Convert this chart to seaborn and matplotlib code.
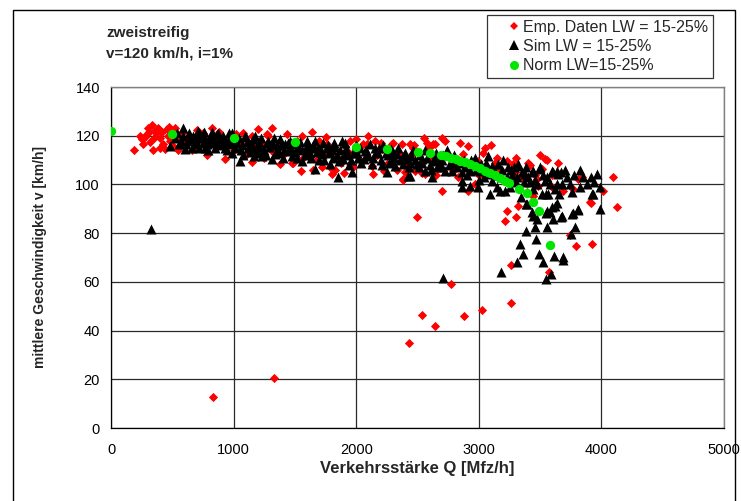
import matplotlib
matplotlib.use("Agg")
import matplotlib.pyplot as plt
from matplotlib.lines import Line2D
from matplotlib.patches import Rectangle
import pandas as pd
import seaborn as sns

# Empirical data (Q in Mfz/h, v in km/h)
emp_q = [185, 237, 250, 262, 291, 332, 340, 359, 386, 400, 400, 427, 440, 454, 467, 508, 522, 536, 544, 604,
         280, 310, 315, 350, 370, 420, 480, 560, 580, 300, 470, 620,
         930, 1148, 1229, 1270, 1311, 1202, 1229, 1283, 1311,
         700, 750, 800, 850, 900, 960, 1000, 1050, 1100, 1150, 1250, 660, 780, 880, 1020, 1180,
         1379, 1433, 1474, 1487, 1569, 1637, 1719, 1760, 1786, 1800, 1854, 1909, 1977, 2058, 2085, 2099,
         2126, 2140, 2208, 2249, 2289, 2303, 2371, 2379, 2385, 2412, 2453, 2466, 2470,
         1350, 1400, 1520, 1550, 1600, 1680, 1700, 1740, 1830, 1880, 1940, 2000, 2030, 2170, 2230, 2330,
         2350, 1650, 1900, 2150,
         2439, 2480, 2520, 2534, 2561, 2575, 2590, 2624, 2643, 2697, 2724, 2792, 2800, 2869, 2874, 2915,
         2915, 2969, 2996, 3037, 3051, 3132, 3146, 3173, 3228, 3282, 3296, 3391, 3404, 3445, 3472, 3485,
         3513, 3540, 3595, 3690, 3771, 3812, 3839, 3907, 4016, 4097, 4125,
         2400, 2600, 2650, 2750, 2830, 2950, 3000, 3100, 3200, 3250, 3350, 3420, 3460, 3600, 3650,
         700, 820, 1080, 1560, 1750, 1950, 2200, 2550, 2700, 2850, 3100, 3300, 3500, 3560,
         2498, 3228, 3304, 3214, 3318, 3744, 3793, 3924, 3913, 3575, 3263, 3263, 3029, 2877, 2771, 2643,
         2540, 2431, 1330, 829]
emp_v = [114.3, 119.9, 118.6, 116.8, 120.9, 124.5, 114.0, 122.0, 123.3, 119.2, 115.0, 116.5, 114.5, 122.7,
         120.0, 115.8, 123.3, 120.6, 114.0, 117.2,
         119.5, 121.5, 117.5, 119.0, 121.0, 121.5, 118.0, 118.0, 121.0, 123.0, 123.5, 119.0,
         110.4, 109.2, 117.2, 120.6, 123.3, 122.7, 113.1, 120.0, 113.8,
         118.0, 121.0, 117.0, 119.5, 116.0, 118.0, 114.0, 117.0, 112.0, 120.0, 111.0, 114.0, 112.0, 121.5,
         120.5, 116.0,
         108.2, 120.6, 109.0, 109.0, 111.0, 121.4, 107.0, 116.5, 107.0, 104.2, 111.0, 115.8, 107.0, 116.5,
         116.5, 120.0, 107.7, 104.2, 114.5, 108.4, 116.5, 117.2, 116.5, 101.8, 102.2, 109.0, 112.4, 115.1,
         116.0,
         115.0, 112.0, 118.0, 105.5, 114.0, 110.0, 118.0, 112.0, 106.0, 109.0, 113.0, 118.5, 110.0, 112.0,
         105.5, 106.0, 113.0, 106.0, 104.5, 118.0,
         116.5, 105.6, 108.4, 104.5, 104.2, 117.2, 115.1, 116.8, 116.5, 97.4, 117.9, 105.6, 107.7, 109.7,
         112.4, 115.8, 97.4, 100.2, 109.7, 113.1, 115.1, 109.0, 111.0, 106.3, 109.7, 108.4, 104.9, 96.9,
         109.0, 95.4, 102.2, 99.5, 106.3, 110.4, 98.8, 97.4, 98.1, 102.2, 102.9, 92.6, 97.4, 102.9, 90.6,
         105.0, 110.0, 104.0, 112.0, 103.0, 108.0, 104.0, 105.0, 102.0, 100.0, 103.0, 108.0, 104.0, 104.0,
         109.0,
         122.5, 123.0, 121.0, 120.0, 119.5, 118.0, 117.0, 119.0, 119.0, 117.0, 116.0, 111.0, 112.0, 110.0,
         86.5, 89.2, 86.8, 85.1, 91.0, 79.3, 74.6, 75.6, 92.2, 64.0, 66.9, 51.4, 48.3, 46.1, 59.2, 41.9,
         46.5, 34.7, 20.5, 12.8]

# Simulation results
sim_q = [481, 555, 585, 610, 631, 671, 685, 726, 767, 794, 821, 862, 916, 930, 984, 1052, 1093, 1148, 1188,
         1202, 1270, 1338, 1379, 1446, 1528, 1556, 1610, 1664, 1719, 1760, 1813, 1854, 1882, 1963, 2017,
         2072, 2153, 2249, 2289, 2371, 2425, 326,
         520, 540, 600, 650, 700, 720, 740, 760, 780, 800, 840, 850, 880, 900, 940, 960, 980, 1000, 1010,
         1030, 1060, 1080, 1110, 1130, 1160, 1170, 1210, 1230, 1250, 1290, 1310, 1350, 1360, 1400, 1420,
         1460, 1480, 1500,
         1540, 1580, 1590, 1630, 1650, 1680, 1700, 1730, 1780, 1790, 1830, 1860, 1900, 1920, 1940, 1980,
         2000,
         2040, 2090, 2110, 2130, 2180, 2200, 2220, 2260, 2300, 2320, 2340, 2380, 2400, 2440, 2460, 2494,
         2534,
         570, 590, 640, 660, 690, 710, 750, 770, 810, 830, 870, 890, 920, 950, 970, 990,
         1040, 1070, 1100, 1120, 1140, 1175, 1195, 1220, 1240, 1265, 1280, 1320, 1330, 1370, 1390, 1410,
         1440, 1470, 1490,
         1510, 1520, 1560, 1600, 1620, 1640, 1660, 1690, 1710, 1740, 1770, 1800, 1820, 1840, 1870, 1890,
         1910, 1930, 1960, 1990,
         2010, 2030, 2060, 2080, 2100, 2140, 2160, 2190, 2210, 2240, 2270, 2280, 2310, 2330, 2360, 2390,
         2410, 2430, 2450, 2480,
         2510, 2540, 2580, 2610, 2640, 2680, 2710, 2760, 2790, 2840, 2860, 2890, 2940, 2980, 3020, 3040,
         3060, 3110, 3140, 3190, 3230, 3260, 3290, 3310, 3350, 3370, 3400, 3430, 3460, 3520, 3560, 3580,
         3700, 3780, 3850, 3880, 3940,
         2439, 2561, 2616, 2629, 2657, 2670, 2697, 2724, 2779, 2779, 2861, 2861, 2928, 2928, 2969, 2996,
         3010, 3078, 3091, 3091, 3105, 3146, 3159, 3173, 3214, 3241, 3254, 3323, 3323, 3346, 3377, 3385,
         3390, 3431, 3445, 3472, 3472, 3499, 3499, 3512, 3540, 3548, 3554, 3567, 3581, 3595, 3603, 3622,
         3622, 3635, 3640, 3649, 3657, 3668, 3676, 3717, 3744, 3758, 3812, 3826, 3826, 3913, 3921, 3929,
         3962, 3989, 3989,
         2520, 2560, 2600, 2650, 2700, 2740, 2800, 2820, 2880, 2900, 2950, 3000, 3050, 3120, 3180, 3200,
         3270, 3300, 3420, 3440,
         3445, 3459, 3385, 3467, 3336, 3358, 3314, 3181, 3494, 3526, 3616, 3690, 3589, 3548, 2706, 3548,
         3608, 3673, 3766, 3812, 3782, 3750, 3595, 3640, 3554, 3676, 3758, 3385, 3690]
sim_v = [115.8, 116.5, 123.3, 116.5, 117.9, 120.0, 116.5, 120.6, 118.6, 114.0, 121.4, 120.6, 120.0, 115.1,
         113.1, 109.7, 120.0, 115.1, 113.1, 115.1, 117.2, 112.4, 118.6, 113.8, 115.1, 109.7, 116.5, 106.3,
         112.4, 115.1, 111.0, 102.9, 117.9, 104.9, 111.0, 113.8, 115.1, 104.9, 109.7, 111.0, 103.6, 81.8,
         119.0, 121.0, 114.5, 118.5, 117.0, 115.0, 119.0, 121.5, 116.5, 119.0, 117.5, 115.0, 118.5, 116.0,
         118.0, 121.0, 116.5, 118.5, 115.0,
         117.0, 114.0, 112.0, 117.5, 113.5, 118.5, 111.5, 117.5, 111.5, 114.0, 115.5, 110.5, 116.0, 114.0,
         111.0, 116.5, 118.0, 111.5, 113.5,
         117.5, 112.0, 114.5, 111.0, 116.0, 113.5, 110.0, 117.0, 113.0, 108.5, 115.5, 109.5, 112.5, 115.0,
         108.0, 113.0, 116.0,
         109.0, 111.5, 116.5, 108.5, 113.0, 110.0, 116.0, 112.0, 113.5, 107.5, 115.0, 108.4, 113.0, 109.0,
         114.0, 108.4, 110.4,
         118.0, 120.0, 121.0, 115.0, 119.0, 122.0, 117.0, 115.0, 117.0, 119.0, 121.0, 117.0, 118.0, 114.0,
         119.0, 121.0,
         119.0, 116.0, 119.5, 115.0, 117.0, 120.0, 116.0, 119.0, 114.0, 112.0, 118.0, 116.5, 119.0, 113.0,
         116.0, 114.0, 117.0, 114.5, 116.5,
         117.0, 111.0, 114.0, 118.0, 113.0, 115.0, 118.0, 115.0, 114.0, 110.0, 116.0, 114.0, 117.0, 112.0,
         114.0, 110.5, 117.0, 112.0, 110.0, 114.5,
         113.0, 115.0, 110.5, 114.0, 112.0, 111.0, 113.5, 115.0, 108.0, 113.0, 109.0, 114.5, 111.0, 112.5,
         110.0, 112.0, 110.5, 107.0, 111.5, 110.0,
         107.0, 109.0, 111.0, 106.0, 110.0, 108.0, 112.0, 108.0, 111.0, 109.0, 105.0, 107.0, 110.0, 106.0,
         108.5, 103.0, 109.0, 107.5, 104.0, 106.0, 103.0, 106.0, 107.0, 103.0, 105.0, 101.0, 103.0, 105.0,
         102.0, 104.0, 103.0, 100.0, 106.0, 104.0, 103.0, 100.0, 101.0,
         103.6, 105.6, 102.9, 109.7, 107.0, 111.0, 107.0, 105.6, 109.0, 105.6, 98.8, 101.5, 99.5, 105.6,
         111.0, 98.8, 105.6, 111.7, 104.2, 96.0, 101.5, 98.8, 108.4, 97.4, 97.4, 107.0, 98.8, 108.4, 107.7,
         94.7, 104.2, 107.2, 92.0, 88.6, 105.6, 100.2, 85.8, 106.3, 107.0, 96.0, 101.5, 96.0, 89.2, 96.0,
         88.6, 105.6, 105.0, 91.3, 98.1, 100.2, 105.6, 104.2, 96.0, 105.3, 100.2, 102.9, 100.2, 96.9, 89.9,
         105.9, 98.8, 102.9, 96.0, 96.0, 104.2, 98.8, 89.9,
         112.0, 114.0, 108.0, 113.0, 110.0, 114.0, 112.0, 107.0, 110.0, 104.0, 108.0, 102.0, 107.0, 106.0,
         103.0, 110.0, 104.0, 101.0, 101.0, 98.0,
         87.2, 82.4, 81.0, 77.6, 75.6, 71.5, 68.0, 64.0, 71.5, 68.0, 70.8, 70.1, 63.3, 61.3, 61.7, 88.1,
         85.8, 86.8, 88.1, 89.5, 82.7, 79.7, 90.6, 92.2, 82.4, 87.2, 87.8, 92.0, 68.8]

# Normative curve
norm_q = [0, 500, 1000, 1500, 2000, 2250, 2500, 2600, 2690, 2730, 2770, 2810, 2850, 2890, 2930, 2970,
          3010, 3050, 3090, 3130, 3170, 3210, 3250, 3330, 3390, 3440, 3490, 3580]
norm_v = [122.0, 120.5, 119.0, 117.5, 115.5, 114.6, 113.4, 113.0, 112.2, 111.6, 111.0, 110.4, 109.8,
          109.1, 108.3, 107.5, 106.6, 105.7, 104.8, 103.8, 102.8, 101.6, 100.4, 98.3, 96.5, 92.9, 89.2,
          75.3]

x_ticks = [0, 1000, 2000, 3000, 4000, 5000]
y_ticks = [0, 20, 40, 60, 80, 100, 120, 140]

labels = ["Emp. Daten LW = 15-25%", "Sim LW = 15-25%", "Norm LW=15-25%"]

sns.set_style("white")
plt.rcParams["font.family"] = ["Liberation Sans", "DejaVu Sans"]

fig = plt.figure(figsize=(7.41, 5.01), dpi=100)
ax = fig.add_axes([111 / 741, 1 - 428 / 501, (724 - 111) / 741, (428 - 87) / 501])

emp = pd.DataFrame({"Q": emp_q, "v": emp_v})
sim = pd.DataFrame({"Q": sim_q, "v": sim_v})
norm = pd.DataFrame({"Q": norm_q, "v": norm_v})

sns.scatterplot(data=emp, x="Q", y="v", ax=ax, marker="D", s=22, color="#ff0000",
                linewidth=0, zorder=3, legend=False)
sns.scatterplot(data=sim, x="Q", y="v", ax=ax, marker="^", s=52, color="black",
                linewidth=0, zorder=4, legend=False)
sns.scatterplot(data=norm, x="Q", y="v", ax=ax, marker="o", s=45, color="#00e600",
                linewidth=0, zorder=5, legend=False)

ax.set_xlim(0, 5000)
ax.set_ylim(0, 140)
ax.set_xticks(x_ticks)
ax.set_yticks(y_ticks)
ax.grid(True, color="#2a2a2a", linewidth=0.9)
ax.set_axisbelow(True)
for side in ["left", "bottom"]:
    ax.spines[side].set_color("black")
    ax.spines[side].set_linewidth(0.9)
for side in ["top", "right"]:
    ax.spines[side].set_color("#808080")
    ax.spines[side].set_linewidth(1.0)
ax.tick_params(axis="both", direction="out", length=4, width=0.8, colors="black",
               labelsize=10.5, pad=4)
ax.tick_params(axis="x", pad=7)
ax.set_xlabel("Verkehrsstärke Q [Mfz/h]", fontsize=12, fontweight="bold", labelpad=3)
ax.set_ylabel("mittlere Geschwindigkeit v [km/h]", fontsize=10, fontweight="bold", labelpad=20)

fig.text(106 / 741, 1 - 33 / 501, "zweistreifig", fontsize=11, fontweight="bold",
         ha="left", va="center")
fig.text(106 / 741, 1 - 53 / 501, "v=120 km/h, i=1%", fontsize=11, fontweight="bold",
         ha="left", va="center")

# Outer chart frame
fig.patches.append(Rectangle((13 / 741, -0.01), (735 - 13) / 741, 1 - 10 / 501 + 0.01,
                             transform=fig.transFigure, fill=False, edgecolor="black",
                             linewidth=1.0))

handles = [
    Line2D([], [], marker="D", linestyle="none", color="#ff0000", markersize=4.5, markeredgewidth=0),
    Line2D([], [], marker="^", linestyle="none", color="black", markersize=6.5, markeredgewidth=0),
    Line2D([], [], marker="o", linestyle="none", color="#00e600", markersize=6.5, markeredgewidth=0),
]
leg = fig.legend(handles, labels, loc="upper left", bbox_to_anchor=(487 / 741, 1 - 15 / 501),
                 frameon=True, fancybox=False, fontsize=11.5, handlelength=2.75,
                 handletextpad=-0.8, borderpad=0.3, labelspacing=0.26, borderaxespad=0)
leg.get_frame().set_edgecolor("black")
leg.get_frame().set_linewidth(0.9)

fig.savefig("out.png", dpi=100)
